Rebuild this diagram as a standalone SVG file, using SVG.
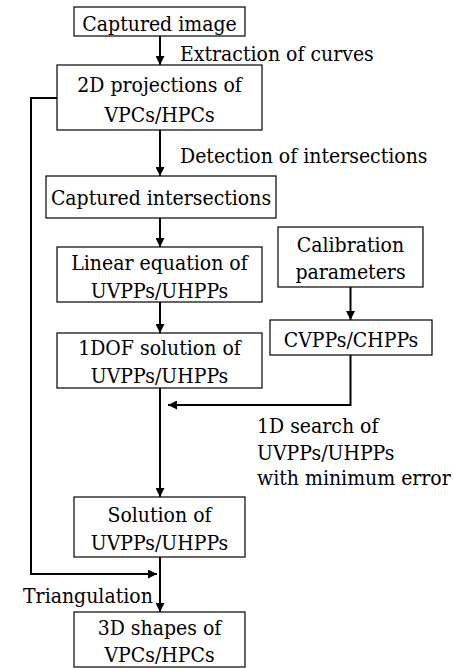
<svg xmlns="http://www.w3.org/2000/svg" width="454" height="668" viewBox="0 0 454 668" font-family="DejaVu Serif Condensed, DejaVu Serif, serif" font-stretch="condensed" font-size="21">
<style>
  .box rect { fill: #fff; stroke: #000; stroke-width: 1.2; }
  text { fill: #000; }
  .c { text-anchor: middle; }
  .conn { fill: none; stroke: #000; stroke-width: 2; }
</style>
<defs>
  <marker id="ah" viewBox="0 0 10 10" refX="10" refY="5" markerWidth="10" markerHeight="9" markerUnits="userSpaceOnUse" orient="auto">
    <path d="M0,0 L10,5 L0,10 z" fill="#000"/>
  </marker>
</defs>
<rect width="454" height="668" fill="#fff"/>
<g id="connectors">
  <path class="conn" d="M160,36 V65" marker-end="url(#ah)"/>
  <path class="conn" d="M160,130 V176" marker-end="url(#ah)"/>
  <path class="conn" d="M160,218 V247" marker-end="url(#ah)"/>
  <path class="conn" d="M160,302 V333" marker-end="url(#ah)"/>
  <path class="conn" d="M160,388 V497" marker-end="url(#ah)"/>
  <path class="conn" d="M350.5,287 V320" marker-end="url(#ah)"/>
  <path class="conn" d="M350.5,355 V405 H168" marker-end="url(#ah)"/>
  <path class="conn" d="M57,98 H31 V574 H157" marker-end="url(#ah)"/>
  <path class="conn" d="M160,557 V612" marker-end="url(#ah)"/>
  <text x="180" y="61">Extraction of curves</text>
  <text x="180" y="163">Detection of intersections</text>
  <text x="257" y="433">1D search of</text>
  <text x="257" y="460">UVPPs/UHPPs</text>
  <text x="257" y="485">with minimum error</text>
  <text x="23" y="603">Triangulation</text>
</g>
<g id="captured-image" class="box">
  <rect x="74" y="7" width="171" height="29"/>
  <text class="c" x="159.5" y="31">Captured image</text>
</g>
<g id="projections" class="box">
  <rect x="57" y="65" width="205" height="65"/>
  <text class="c" x="159.5" y="92">2D projections of</text>
  <text class="c" x="159.5" y="122">VPCs/HPCs</text>
</g>
<g id="captured-intersections" class="box">
  <rect x="46" y="176" width="230" height="42"/>
  <text class="c" x="161" y="205">Captured intersections</text>
</g>
<g id="linear-equation" class="box">
  <rect x="57" y="247" width="205" height="55"/>
  <text class="c" x="159.5" y="270">Linear equation of</text>
  <text class="c" x="159.5" y="298">UVPPs/UHPPs</text>
</g>
<g id="one-dof" class="box">
  <rect x="57" y="333" width="205" height="55"/>
  <text class="c" x="159.5" y="355">1DOF solution of</text>
  <text class="c" x="159.5" y="383">UVPPs/UHPPs</text>
</g>
<g id="calibration" class="box">
  <rect x="278" y="227" width="145" height="60"/>
  <text class="c" x="350.5" y="252">Calibration</text>
  <text class="c" x="350.5" y="279">parameters</text>
</g>
<g id="cvpps" class="box">
  <rect x="270" y="320" width="162" height="35"/>
  <text class="c" x="351" y="347">CVPPs/CHPPs</text>
</g>
<g id="solution" class="box">
  <rect x="74" y="497" width="171" height="60"/>
  <text class="c" x="159.5" y="522">Solution of</text>
  <text class="c" x="159.5" y="550">UVPPs/UHPPs</text>
</g>
<g id="shapes-3d" class="box">
  <rect x="74" y="612" width="171" height="55"/>
  <text class="c" x="159.5" y="635">3D shapes of</text>
  <text class="c" x="159.5" y="662">VPCs/HPCs</text>
</g>
</svg>
